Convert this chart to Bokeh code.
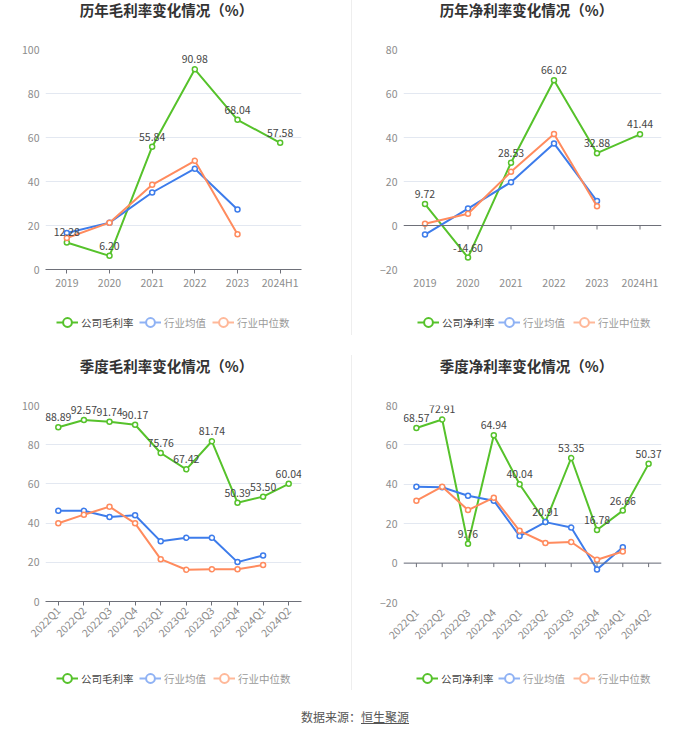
import math
from bokeh.plotting import figure
from bokeh.models import (FactorRange, Range1d, FixedTicker, Legend, LegendItem,
                          Label, LabelSet, Span, ColumnDataSource, Div)
from bokeh.layouts import column, row
from bokeh.embed import file_html
from bokeh.resources import INLINE
from bokeh.core.properties import value

# ---------------- data ----------------
years = ["2019", "2020", "2021", "2022", "2023", "2024H1"]
years_industry = ["2019", "2020", "2021", "2022", "2023"]
quarters = ["2022Q1", "2022Q2", "2022Q3", "2022Q4", "2023Q1",
            "2023Q2", "2023Q3", "2023Q4", "2024Q1", "2024Q2"]
quarters_industry = ["2022Q1", "2022Q2", "2022Q3", "2022Q4", "2023Q1",
                     "2023Q2", "2023Q3", "2023Q4", "2024Q1"]

annual_gross_company = [12.28, 6.20, 55.84, 90.98, 68.04, 57.58]
annual_gross_mean = [16.6, 21.3, 35.0, 45.8, 27.3]
annual_gross_median = [14.3, 21.3, 38.5, 49.4, 16.0]

annual_net_company = [9.72, -14.60, 28.53, 66.02, 32.88, 41.44]
annual_net_mean = [-4.1, 7.7, 19.7, 37.3, 11.1]
annual_net_median = [0.8, 5.3, 24.4, 41.6, 8.7]

quarter_gross_company = [88.89, 92.57, 91.74, 90.17, 75.76, 67.42, 81.74, 50.39, 53.50, 60.04]
quarter_gross_mean = [46.3, 46.3, 43.1, 44.0, 30.7, 32.5, 32.5, 20.1, 23.5]
quarter_gross_median = [39.9, 44.3, 48.4, 39.9, 21.6, 16.2, 16.5, 16.5, 18.6]

quarter_net_company = [68.57, 72.91, 9.76, 64.94, 40.04, 20.91, 53.35, 16.78, 26.66, 50.37]
quarter_net_mean = [38.8, 38.5, 34.2, 31.7, 13.7, 20.8, 18.1, -3.2, 8.0]
quarter_net_median = [31.7, 38.8, 26.9, 33.2, 16.4, 10.2, 10.7, 1.7, 5.9]

gross_ticks = [0, 20, 40, 60, 80, 100]
net_ticks = [-20, 0, 20, 40, 60, 80]

titles = ["历年毛利率变化情况（%）", "历年净利率变化情况（%）",
          "季度毛利率变化情况（%）", "季度净利率变化情况（%）"]
legend_gross = ["公司毛利率", "行业均值", "行业中位数"]
legend_net = ["公司净利率", "行业均值", "行业中位数"]
source_text = "数据来源：恒生聚源"

# ---------------- style ----------------
FONT = "Noto Sans CJK SC"
GREEN = "#56C22B"
BLUE = "#3D7CEB"
ORANGE = "#FF8B5E"
BLUE_L = "#8FB2F4"
ORANGE_L = "#FFB899"
AXIS = "#6E7079"
GRID = "#E3E8F1"
TICKLAB = "#8C8C8C"
DIV_COL = "#EEEEEE"
NAN = float("nan")


def divider_css(y0, length):
    return {"background": f"linear-gradient({DIV_COL}, {DIV_COL}) 1px {y0}px / 1px {length}px no-repeat"}


def blank_fig(W, H, divider):
    p = figure(width=W, height=H, x_range=Range1d(0, 1), y_range=Range1d(0, 1),
               output_backend="svg", toolbar_location=None,
               x_axis_location=None, y_axis_location=None,
               min_border_left=0, min_border_right=0, min_border_top=0, min_border_bottom=0)
    p.grid.visible = False
    p.outline_line_color = None
    p.border_fill_color = None
    p.background_fill_color = None
    if divider:
        p.styles = divider
    return p


# note: the frames of the small title / legend figures are aligned by the
# column layout with the chart frame below them, so x is given from the frame left
def title_fig(W, H, text, cx, cy, divider):
    p = blank_fig(W, H, divider)
    p.add_layout(Label(x=cx, y=H - cy, x_units="screen", y_units="screen",
                       text=text, text_align="center", text_baseline="middle",
                       text_font=FONT, text_font_size="14.5px",
                       text_font_style="bold", text_color="#333333"))
    return p


def legend_fig(W, H, labels, xs, cy, divider):
    p = blank_fig(W, H, divider)
    icon_cols = [GREEN, BLUE_L, ORANGE_L]
    text_cols = ["#454545", "#9A9A9A", "#9A9A9A"]
    gh = 24
    for lab, lx, ic, tc in zip(labels, xs, icon_cols, text_cols):
        lr = p.line([NAN], [NAN], line_color=ic, line_width=2)
        sr = p.scatter([NAN], [NAN], marker="circle", size=8, fill_color="white",
                       line_color=ic, line_width=2)
        lg = Legend(items=[LegendItem(label=lab, renderers=[lr, sr])],
                    location=(lx, H - cy - gh / 2), orientation="horizontal",
                    border_line_color=None, background_fill_alpha=0,
                    padding=0, margin=0, spacing=0,
                    glyph_width=22, glyph_height=gh, label_standoff=3,
                    label_text_font_size="10.5px", label_text_font=FONT,
                    label_text_color=tc, label_height=gh)
        p.add_layout(lg)
    return p


def chart_fig(W, H, mb, cats, ind_cats, comp, mean, med, yr, ticks, rotated, zero_axis, divider):
    left, right, top, bottom = mb
    p = figure(width=W, height=H, x_range=FactorRange(*cats), y_range=Range1d(*yr),
               output_backend="svg", toolbar_location=None,
               min_border_left=left, min_border_right=right,
               min_border_top=top, min_border_bottom=bottom)
    p.outline_line_color = None
    p.border_fill_color = None
    p.background_fill_color = None
    if divider:
        p.styles = divider

    fh = H - top - bottom
    px_per_unit = fh / (yr[1] - yr[0])

    # y axis
    p.yaxis.ticker = FixedTicker(ticks=ticks)
    p.yaxis.axis_line_color = None
    p.yaxis.major_tick_line_color = None
    p.yaxis.minor_tick_line_color = None
    p.yaxis.major_tick_out = 0
    p.yaxis.major_label_standoff = 6
    p.yaxis.major_label_text_color = TICKLAB
    p.yaxis.major_label_text_font_size = "10.5px"
    p.yaxis.major_label_text_font = FONT
    p.ygrid.ticker = FixedTicker(ticks=ticks)
    p.ygrid.grid_line_color = GRID
    p.xgrid.grid_line_color = None

    # x axis
    p.xaxis.major_label_text_color = TICKLAB
    p.xaxis.major_label_text_font_size = "10.5px"
    p.xaxis.major_label_text_font = FONT
    p.xaxis.minor_tick_line_color = None
    if rotated:
        p.xaxis.major_label_orientation = math.pi / 4
    if zero_axis:
        p.xaxis.axis_line_color = None
        p.xaxis.major_tick_line_color = None
        p.xaxis.major_tick_out = 0
        p.xaxis.major_tick_in = 0
        p.xaxis.major_label_standoff = 8 if rotated else 5
        p.add_layout(Span(location=0, dimension="width", line_color=AXIS, line_width=1))
        tick_len = 4 / px_per_unit
        tsrc = ColumnDataSource(dict(x=cats, y0=[0] * len(cats), y1=[-tick_len] * len(cats)))
        p.segment(x0="x", y0="y0", x1="x", y1="y1", source=tsrc, line_color=AXIS, line_width=1)
    else:
        p.xaxis.axis_line_color = AXIS
        p.xaxis.major_tick_line_color = AXIS
        p.xaxis.major_tick_out = 4
        p.xaxis.major_tick_in = 0
        p.xaxis.major_label_standoff = 3 if rotated else 1

    # series
    p.line(cats, comp, line_color=GREEN, line_width=2)
    p.scatter(cats, comp, marker="circle", size=5, fill_color="white",
              line_color=GREEN, line_width=1.5)
    p.line(ind_cats, mean, line_color=BLUE, line_width=2)
    p.scatter(ind_cats, mean, marker="circle", size=5, fill_color="white",
              line_color=BLUE, line_width=1.5)
    p.line(ind_cats, med, line_color=ORANGE, line_width=2)
    p.scatter(ind_cats, med, marker="circle", size=5, fill_color="white",
              line_color=ORANGE, line_width=1.5)

    lsrc = ColumnDataSource(dict(x=cats, y=comp, t=[f"{v:.2f}" for v in comp]))
    p.add_layout(LabelSet(x="x", y="y", text="t", source=lsrc, text_align="center",
                          text_baseline="bottom", y_offset=6, text_font_size="10.5px",
                          text_color="#464646", text_font=value(FONT)))
    return p


# ----- top-left (frame left at 45) -----
tl = column(
    title_fig(350, 30, titles[0], 121, 9, None),
    chart_fig(350, 275, (45, 49, 19, 36), years, years_industry,
              annual_gross_company, annual_gross_mean, annual_gross_median,
              (0, 100), gross_ticks, False, False, None),
    legend_fig(350, 40, legend_gross, [11, 94, 167], 17, None),
)
# ----- top-right (frame left at 53) -----
tr = column(
    title_fig(350, 30, titles[1], 123, 9, divider_css(0, 30)),
    chart_fig(350, 275, (53, 39, 19, 36), years, years_industry,
              annual_net_company, annual_net_mean, annual_net_median,
              (-20, 80), net_ticks, False, True, divider_css(0, 275)),
    legend_fig(350, 40, legend_net, [14, 95, 170], 17, divider_css(0, 30)),
)
# ----- bottom-left -----
bl = column(
    title_fig(350, 40, titles[2], 121, 20, None),
    chart_fig(350, 275, (45, 49, 20, 59), quarters, quarters_industry,
              quarter_gross_company, quarter_gross_mean, quarter_gross_median,
              (0, 100), gross_ticks, True, False, None),
    legend_fig(350, 35, legend_gross, [11, 94, 168], 18, None),
)
# ----- bottom-right -----
br = column(
    title_fig(350, 40, titles[3], 123, 20, divider_css(10, 30)),
    chart_fig(350, 275, (53, 39, 20, 58), quarters, quarters_industry,
              quarter_net_company, quarter_net_mean, quarter_net_median,
              (-20, 80), net_ticks, True, True, divider_css(0, 275)),
    legend_fig(350, 35, legend_net, [13, 95, 170], 18, divider_css(0, 30)),
)

src_a, src_b = source_text.split("：")
footer = Div(text=(f'<div style="width:700px;text-align:center;font-family:\'{FONT}\';'
                   f'font-size:12px;color:#555555;padding-top:9px;line-height:16px">'
                   f'{src_a}：<span style="text-decoration:underline">{src_b}</span></div>'),
             width=700, height=30)

layout = column(row(tl, tr), row(bl, br), footer)

open("out.html", "w").write(file_html(layout, INLINE))
